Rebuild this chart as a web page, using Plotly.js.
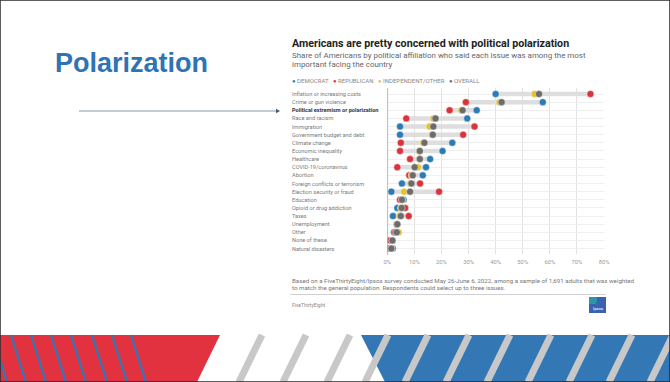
<!DOCTYPE html>
<html><head><meta charset="utf-8">
<script src="https://cdn.plot.ly/plotly-3.0.1.min.js"></script>
<style>html,body{margin:0;padding:0;background:#fff;}#chart{width:670px;height:382px;}</style>
</head><body><div id="chart"></div>
<script>
const categories = [
  "Inflation or increasing costs","Crime or gun violence","Political extremism or polarization",
  "Race and racism","Immigration","Government budget and debt","Climate change",
  "Economic inequality","Healthcare","COVID-19/coronavirus","Abortion",
  "Foreign conflicts or terrorism","Election security or fraud","Education",
  "Opioid or drug addiction","Taxes","Unemployment","Other","None of these","Natural disasters"
];
const democrat    = [40, 57.4, 33, 29.5, 4.7, 4.7, 24, 20.4, 15.8, 14.3, 13.1, 5.4, 1.5, 6, 3.7, 2.1, 3.5, 2.5, 1.5, 2];
const republican  = [75, 29, 23, 7, 32.2, 28, 5, 4.7, 8.4, 3.7, 8.1, 12.1, 19.1, 4.7, 6.6, 7.9, 3.5, 3, 1, 0.6];
const independent = [54.4, 41.4, 27.3, 17, 15.6, 16.5, 13.3, 11.8, 12, 11.3, 9, 8.5, 6.2, 5.5, 5, 4.5, 3.5, 4.2, 1.9, 1.5];
const overall     = [56, 42.2, 27.8, 17.8, 17, 16.8, 13.7, 12, 12, 10.1, 9.4, 8.9, 8.4, 5.4, 5.3, 5, 3.7, 3.5, 1.9, 1.5];
const highlighted = "Political extremism or polarization";
const xTickVals = [0,10,20,30,40,50,60,70,80];
const xTickText = ["0%","10%","20%","30%","40%","50%","60%","70%","80%"];
const seriesNames = ["DEMOCRAT","REPUBLICAN","INDEPENDENT/OTHER","OVERALL"];

const W = 670, H = 382;
const px = x => x / W, py = y => 1 - y / H;
const C = {dem:"#2b7bb5", rep:"#d8343c", ind:"#e6c229", all:"#6c6c6c"};
const idx = categories.map((_, i) => i);

// range bars
const bx = [], by = [];
categories.forEach((c, i) => {
  const v = [democrat[i], republican[i], independent[i], overall[i]];
  bx.push(Math.min(...v), Math.max(...v), null);
  by.push(i, i, null);
});

const mk = (color) => ({size: 7, color: color, line: {color: "rgba(255,255,255,0.7)", width: 0.6}});
const traces = [
  {x: bx, y: by, mode: "lines", line: {color: "#dedede", width: 4.5}, hoverinfo: "skip", showlegend: false},
  {x: democrat, y: idx, mode: "markers", marker: mk(C.dem), name: seriesNames[0], showlegend: false},
  {x: republican, y: idx, mode: "markers", marker: mk(C.rep), name: seriesNames[1], showlegend: false},
  {x: independent, y: idx, mode: "markers", marker: mk(C.ind), name: seriesNames[2], showlegend: false},
  {x: overall, y: idx, mode: "markers", marker: mk(C.all), name: seriesNames[3], showlegend: false}
];

const F = "Roboto, 'Liberation Sans', Arial, sans-serif";
const ann = [];
const txt = (x, y, text, size, color, extra) => ann.push(Object.assign({
  xref: "paper", yref: "paper", x: px(x), y: py(y), xanchor: "left", yanchor: "middle",
  text: text, showarrow: false, font: {family: F, size: size, color: color}
}, extra || {}));

// slide title
txt(53, 63, "<b>Polarization</b>", 27, "#2e74b5", {font: {family: "'Liberation Sans', Arial, sans-serif", size: 27, color: "#2e74b5"}});
// chart title & subtitle
txt(290, 43, "<b>Americans are pretty concerned with political polarization</b>", 10.7, "#222");
txt(290, 55.5, "Share of Americans by political affiliation who said each issue was among the most", 7.95, "#666");
txt(290, 64.5, "important facing the country", 7.95, "#666");
// legend
const legCols = [C.dem, C.rep, C.ind, C.all];
const legText = seriesNames.map((n, i) => `<span style="color:${legCols[i]}">●</span> ${n}`).join("   ");
txt(290, 80, legText, 6, "#888");
// category labels
categories.forEach((c, i) => {
  const bold = c === highlighted;
  ann.push({xref: "paper", yref: "y", x: px(290), y: i, xanchor: "left", yanchor: "middle", showarrow: false,
    text: bold ? "<b>" + c + "</b>" : c,
    font: {family: F, size: 5.6, color: bold ? "#333" : "#7a7a7a"}});
});
// footnotes
txt(290, 281, "Based on a FiveThirtyEight/Ipsos survey conducted May 26-June 6, 2022, among a sample of 1,691 adults that was weighted", 6.2, "#777");
txt(290, 287.8, "to match the general population. Respondents could select up to three issues.", 6.2, "#777");
txt(290, 305, "FiveThirtyEight", 5, "#888");
ann.push({xref: "paper", yref: "paper", x: px(597.5), y: py(308.5), xanchor: "center", yanchor: "middle",
  text: "Ipsos", showarrow: false, font: {family: F, size: 4.2, color: "#fff"}});

const shapes = [];
// arrow
shapes.push({type: "line", xref: "paper", yref: "paper", x0: px(79), x1: px(276), y0: py(111), y1: py(111), line: {color: "#8797ad", width: 1}});
shapes.push({type: "path", xref: "paper", yref: "paper",
  path: `M ${px(276)} ${py(108.8)} L ${px(280)} ${py(111)} L ${px(276)} ${py(113.2)} Z`, fillcolor: "#3f5b82", line: {width: 0}});
// y axis line
shapes.push({type: "line", xref: "x", yref: "paper", x0: 0, x1: 0, y0: py(88), y1: py(255), line: {color: "#a8a8a8", width: 1.6}});
// separator
shapes.push({type: "line", xref: "paper", yref: "paper", x0: px(290), x1: px(606), y0: py(294.5), y1: py(294.5), line: {color: "#d0d0d0", width: 1}});
// Ipsos logo
shapes.push({type: "rect", xref: "paper", yref: "paper", x0: px(589), x1: px(606), y0: py(297), y1: py(313), fillcolor: "#3a62b0", line: {width: 0}});
shapes.push({type: "rect", xref: "paper", yref: "paper", x0: px(589), x1: px(597), y0: py(297), y1: py(304), fillcolor: "#2aa3a8", line: {width: 0}, opacity: 0.8});
shapes.push({type: "circle", xref: "paper", yref: "paper", x0: px(596), x1: px(599), y0: py(301), y1: py(305.5), fillcolor: "#2f6fb0", line: {width: 0}});

// decorative band
const poly = pts => "M " + pts.map(p => px(p[0]) + " " + py(p[1])).join(" L ") + " Z";
const RED = "#e2323f", BLUE = "#3377b5", GRAY = "#c8c8c8";
shapes.push({type: "path", xref: "paper", yref: "paper", path: poly([[0,335],[220,335],[197,382],[0,382]]), fillcolor: RED, line: {width: 0}});
shapes.push({type: "path", xref: "paper", yref: "paper", path: poly([[361,335],[670,335],[670,382],[385,382]]), fillcolor: BLUE, line: {width: 0}});
[-8, 11, 31, 51, 71, 92, 112, 131].forEach(x => {
  shapes.push({type: "line", xref: "paper", yref: "paper", x0: px(x), x1: px(x + 15), y0: py(335), y1: py(382), line: {color: BLUE, width: 2.3}});
});
[262, 306, 350, 388, 428, 469, 510, 551, 592, 632, 673].forEach(x => {
  shapes.push({type: "line", xref: "paper", yref: "paper", x0: px(x), x1: px(x - 23), y0: py(335), y1: py(382), line: {color: GRAY, width: 7}});
});
// slide border
shapes.push({type: "rect", xref: "paper", yref: "paper", x0: 0, x1: 1, y0: 0, y1: 1, line: {color: "#2a2a2a", width: 1.5}});

const layout = {
  width: W, height: H, margin: {l: 0, r: 0, t: 0, b: 0},
  paper_bgcolor: "#fff", plot_bgcolor: "rgba(0,0,0,0)", showlegend: false,
  xaxis: {domain: [px(387.3), px(604)], range: [0, 80], tickvals: xTickVals, ticktext: xTickText,
    showgrid: true, gridcolor: "#e2e2e2", gridwidth: 1, zeroline: false, showline: false, ticks: "",
    ticklabelstandoff: 3,
    tickfont: {family: F, size: 5.8, color: "#999"}, fixedrange: true},
  yaxis: {domain: [py(254.3), py(88.3)], range: [19.7, -0.7], tickvals: idx, showticklabels: false,
    showgrid: true, gridcolor: "#efefef", gridwidth: 1, zeroline: false, showline: false, ticks: "", fixedrange: true},
  annotations: ann, shapes: shapes
};
Plotly.newPlot("chart", traces, layout, {staticPlot: true, displayModeBar: false});
</script></body></html>
